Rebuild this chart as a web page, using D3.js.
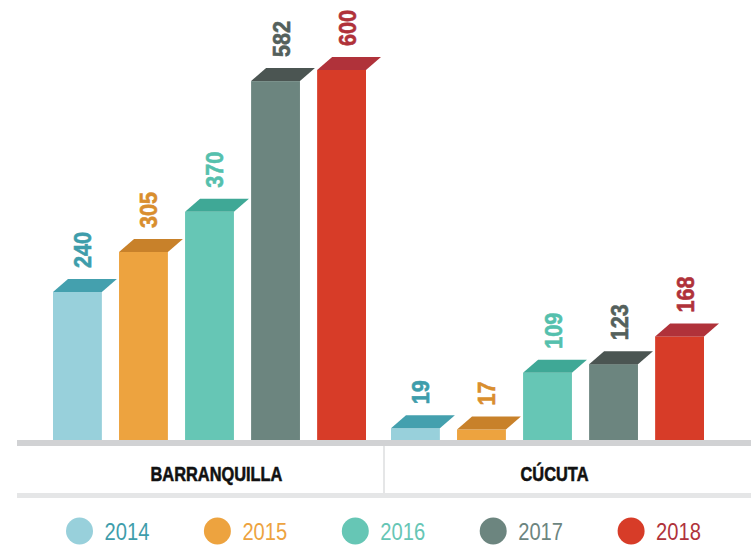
<!DOCTYPE html>
<html>
<head>
<meta charset="utf-8">
<script src="https://cdn.jsdelivr.net/npm/d3@7/dist/d3.min.js"></script>
<style>
  body { margin: 0; background: #fff; }
  svg { display: block; }
</style>
</head>
<body>
<script>
// Chart data
var cities = ["BARRANQUILLA", "CÚCUTA"];
var years = ["2014", "2015", "2016", "2017", "2018"];
var barranquillaValues = [240, 305, 370, 582, 600];
var cucutaValues = [19, 17, 109, 123, 168];

// Colours per year: front face, top face, label
var frontColors = ["#98d0db", "#eda33f", "#66c6b5", "#6c857f", "#d73c28"];
var topColors = ["#44a0ae", "#c8812a", "#3fa896", "#4b5552", "#b0323a"];
var labelColors = ["#3e9dab", "#d98e2e", "#55c0ad", "#54605c", "#b0323a"];
var legendColors = ["#3e9dab", "#eda33f", "#66c6b5", "#6c857f", "#b0323a"];

var svgWidth = 751;
var svgHeight = 547;
var baseY = 440;
var depthX = 15;
var depthY = 13;
var font = "'Liberation Sans', Arial, sans-serif";

var svg = d3.select("body")
  .append("svg")
  .attr("width", svgWidth)
  .attr("height", svgHeight);

// rows of data, one per bar
var rows = [];
cities.forEach(function(c, ci) {
  var vals = ci === 0 ? barranquillaValues : cucutaValues;
  years.forEach(function(y, yi) {
    rows.push({ city: c, year: y, yi: yi, value: vals[yi] });
  });
});

// scales
var xOuter = d3.scaleBand()
  .domain(cities)
  .range([53, 704])
  .paddingInner(0.074);

var xInner = d3.scaleBand()
  .domain(years)
  .range([0, xOuter.bandwidth()])
  .paddingInner(0.26);

var yScale = d3.scaleLinear()
  .domain([0, 600])
  .range([baseY, 70]);

// baseline and category strip
svg.append("rect")
  .attr("x", 17).attr("y", baseY)
  .attr("width", svgWidth - 17).attr("height", 6)
  .attr("fill", "#d1d2d4");

svg.append("rect")
  .attr("x", 17).attr("y", 493)
  .attr("width", svgWidth - 17).attr("height", 5)
  .attr("fill", "#e5e6e7");

svg.append("rect")
  .attr("x", 383).attr("y", 446)
  .attr("width", 2).attr("height", 47)
  .attr("fill", "#e5e6e7");

// condensed look: squeeze the text horizontally
svg.selectAll(".cat")
  .data(cities)
  .enter()
  .append("text")
  .attr("class", "cat")
  .attr("transform", d => `translate(${xOuter(d) + xOuter.bandwidth() / 2 + 7}, 480.5) scale(0.78, 1)`)
  .attr("text-anchor", "middle")
  .attr("font-family", font)
  .attr("font-weight", "bold")
  .attr("font-size", 21)
  .attr("fill", "#111")
  .attr("stroke", "#111")
  .attr("stroke-width", 0.6)
  .text(d => d);

// bars
var bars = svg.selectAll(".bar")
  .data(rows)
  .enter()
  .append("g")
  .attr("class", "bar")
  .attr("transform", d => `translate(${xOuter(d.city) + xInner(d.year)}, 0)`);

var bw = xInner.bandwidth();

bars.append("rect")
  .attr("x", 0)
  .attr("y", d => yScale(d.value))
  .attr("width", bw)
  .attr("height", d => baseY - yScale(d.value))
  .attr("fill", d => frontColors[d.yi]);

bars.append("polygon")
  .attr("points", function(d) {
    var t = yScale(d.value);
    return [[0, t], [depthX, t - depthY], [bw + depthX, t - depthY], [bw, t]]
      .map(p => p.join(",")).join(" ");
  })
  .attr("fill", d => topColors[d.yi]);

bars.append("text")
  .attr("transform", d => `translate(${bw / 2 + 14}, ${yScale(d.value) - depthY - 11}) rotate(-90) scale(0.9, 1)`)
  .attr("font-family", font)
  .attr("font-weight", "bold")
  .attr("font-size", 24)
  .attr("fill", d => labelColors[d.yi])
  .attr("stroke", d => labelColors[d.yi])
  .attr("stroke-width", 0.6)
  .text(d => d.value);

// legend
var legend = svg.selectAll(".legend")
  .data(years)
  .enter()
  .append("g")
  .attr("class", "legend")
  .attr("transform", (d, i) => `translate(${79.5 + i * 137.9}, 531)`);

legend.append("circle")
  .attr("r", 13.5)
  .attr("fill", (d, i) => frontColors[i]);

legend.append("text")
  .attr("transform", "translate(25, 9) scale(0.84, 1)")
  .attr("font-family", font)
  .attr("font-size", 24)
  .attr("fill", (d, i) => legendColors[i])
  .text(d => d);
</script>
</body>
</html>
